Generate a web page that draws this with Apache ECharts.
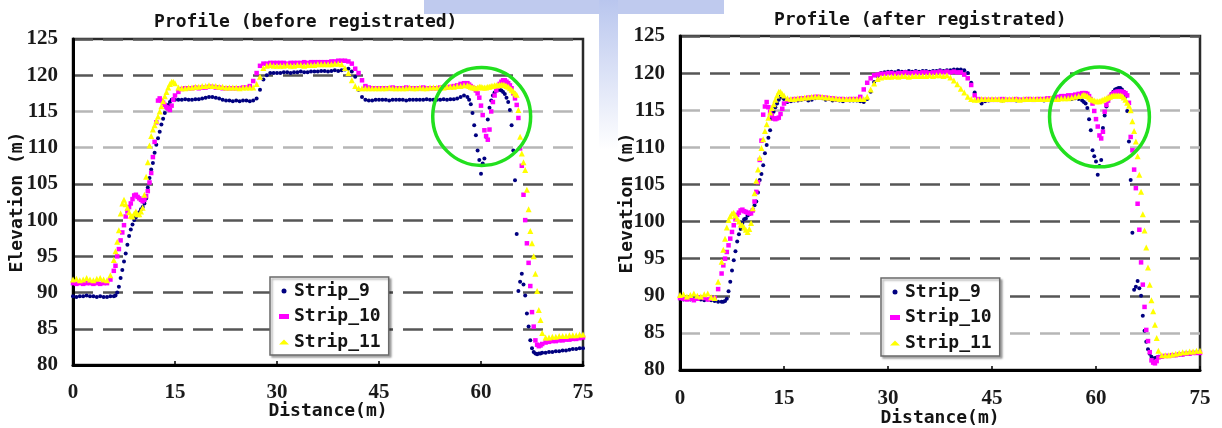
<!DOCTYPE html>
<html>
<head>
<meta charset="utf-8">
<title>Profile before / after registration</title>
<script src="https://cdn.jsdelivr.net/npm/echarts@6/dist/echarts.min.js"></script>
<style>
  html, body { margin: 0; padding: 0; background: #fff; }
  #chart { width: 1222px; height: 428px; }
</style>
</head>
<body>
<div id="chart"></div>
<script>
// distance (m) of every sample, shared by all strips
const dist = [
  0, 0.5, 1, 1.5, 2, 2.5, 3, 3.5, 4, 4.5, 5, 5.5,
  6, 6.25, 6.5, 6.75, 7, 7.25, 7.5, 7.75, 8, 8.25,
  8.5, 8.75, 9, 9.25, 9.5, 9.75, 10, 10.25, 10.5, 10.75,
  11, 11.25, 11.5, 11.75, 12, 12.25, 12.5, 12.75, 13, 13.25,
  13.5, 13.75, 14, 14.25, 14.5, 14.75, 15,
  15.5, 16, 16.5, 17, 17.5, 18, 18.5, 19, 19.5, 20,
  20.5, 21, 21.5, 22, 22.5, 23, 23.5, 24, 24.5, 25,
  25.5, 26, 26.5, 27, 27.5, 28, 28.5, 29, 29.5, 30,
  30.5, 31, 31.5, 32, 32.5, 33, 33.5, 34, 34.5, 35,
  35.5, 36, 36.5, 37, 37.5, 38, 38.5, 39, 39.5, 40,
  40.5, 41, 41.5, 42, 42.5, 43, 43.5, 44, 44.5, 45,
  45.5, 46, 46.5, 47, 47.5, 48, 48.5, 49, 49.5, 50,
  50.5, 51, 51.5, 52, 52.5, 53, 53.5, 54, 54.5, 55,
  55.5, 56, 56.5, 57, 57.5,
  58, 58.25, 58.5, 58.75, 59, 59.25, 59.5, 59.75, 60, 60.25,
  60.5, 60.75, 61, 61.25, 61.5, 61.75, 62, 62.25, 62.5, 62.75,
  63, 63.25, 63.5, 63.75, 64, 64.25, 64.5, 64.75, 65, 65.25,
  65.5, 65.75, 66, 66.25, 66.5, 66.75, 67, 67.25, 67.5, 67.75,
  68, 68.25, 68.5, 68.75, 69,
  69.5, 70, 70.5, 71, 71.5, 72, 72.5, 73, 73.5, 74, 74.5, 75
];

// elevation (m), before registration
const before9 = [
  89.5, 89.4, 89.5, 89.5, 89.6, 89.5, 89.5, 89.4, 89.5, 89.4, 89.4, 89.5,
  89.5, 89.6, 90.0, 90.8, 92.0, 93.1, 94.3, 95.4, 96.6, 97.8,
  98.7, 99.4, 100.0, 100.4, 100.7, 101.1, 101.5, 101.8, 102.3, 103.0,
  104.5, 105.8, 107.0, 107.9, 109.3, 110.4, 111.3, 112.2, 113.2, 114.0,
  114.8, 115.5, 115.9, 116.3, 116.6, 116.7, 116.6,
  116.6, 116.6, 116.7, 116.6, 116.6, 116.7, 116.7, 116.8, 116.9, 117.0,
  117.0, 116.9, 116.8, 116.6, 116.5, 116.5, 116.4, 116.5, 116.4, 116.5,
  116.5, 116.4, 116.5, 116.8, 118.0, 119.4, 120.0, 120.3, 120.3, 120.3,
  120.3, 120.4, 120.4, 120.3, 120.4, 120.4, 120.5, 120.4, 120.4, 120.5,
  120.5, 120.5, 120.6, 120.6, 120.5, 120.6, 120.7, 120.6, 120.7, 120.8,
  120.9, 120.5, 119.8, 118.0, 117.0, 116.6, 116.5, 116.5, 116.6, 116.6,
  116.6, 116.6, 116.5, 116.6, 116.6, 116.6, 116.6, 116.5, 116.6, 116.6,
  116.6, 116.6, 116.6, 116.7, 116.6, 116.6, 116.6, 116.6, 116.7, 116.6,
  116.7, 116.7, 116.8, 117.0, 117.2,
  117.0, 116.6, 116.0, 114.8, 113.1, 111.7, 109.6, 108.3, 106.4, 107.8,
  108.5, 111.5, 113.9, 115.5, 116.5, 117.2, 117.6, 117.9, 118.0, 118.0,
  117.9, 117.7, 117.4, 116.9, 116.3, 115.2, 113.1, 109.6, 105.5, 98.1,
  90.2, 91.5, 92.6, 91.1, 89.6, 87.1, 85.3, 83.4, 82.3, 81.8,
  81.6, 81.5, 81.6, 81.6, 81.7,
  81.7, 81.8, 81.8, 81.9, 81.9, 82.0, 82.0, 82.1, 82.2, 82.2, 82.3, 82.3
];
const before10 = [
  91.3, 91.2, 91.3, 91.2, 91.3, 91.3, 91.2, 91.3, 91.2, 91.3, 91.3, 91.8,
  93.0, 93.7, 95.0, 96.0, 97.2, 98.3, 99.3, 100.5, 101.2, 101.8,
  102.3, 102.9, 103.4, 103.5, 103.2, 103.0, 102.8, 102.6, 102.8, 103.3,
  104.0, 105.2, 106.5, 108.7, 110.8, 113.5, 116.5, 116.8, 116.5, 116.2,
  115.9, 115.6, 115.4, 115.2, 115.8, 116.6, 117.2,
  117.7, 118.1, 118.2, 118.2, 118.2, 118.3, 118.2, 118.3, 118.3, 118.4,
  118.4, 118.3, 118.3, 118.2, 118.2, 118.2, 118.2, 118.2, 118.2, 118.3,
  118.3, 118.5, 119.2, 120.3, 121.3, 121.6, 121.6, 121.7, 121.7, 121.7,
  121.7, 121.7, 121.6, 121.7, 121.7, 121.7, 121.7, 121.8, 121.7, 121.8,
  121.8, 121.8, 121.8, 121.8, 121.8, 121.9, 121.9, 122.0, 122.0, 122.0,
  121.9, 121.6, 120.9, 120.3, 119.3, 118.5, 118.3, 118.2, 118.2, 118.2,
  118.2, 118.2, 118.2, 118.3, 118.2, 118.2, 118.2, 118.3, 118.2, 118.2,
  118.2, 118.2, 118.3, 118.2, 118.2, 118.2, 118.2, 118.3, 118.3, 118.3,
  118.4, 118.5, 118.6, 118.8, 118.9,
  118.9, 118.7, 118.5, 118.3, 118.2, 117.9, 117.5, 116.9, 115.8, 114.5,
  112.4, 111.6, 111.1, 112.5, 115.0, 116.3, 117.2, 117.9, 118.4, 118.8,
  119.1, 119.3, 119.3, 119.1, 118.9, 118.6, 118.2, 117.5, 116.8, 115.9,
  114.1, 109.9, 107.5, 103.5, 100.0, 96.8, 94.1, 90.9, 87.3, 85.3,
  83.4, 82.8, 82.6, 82.7, 82.9,
  83.1, 83.2, 83.3, 83.3, 83.4, 83.4, 83.5, 83.5, 83.6, 83.6, 83.7, 83.8
];
const before11 = [
  91.8, 91.9, 91.7, 91.8, 92.0, 91.8, 91.7, 91.9, 92.0, 91.8, 91.7, 92.4,
  94.5, 95.7, 97.0, 98.6, 100.9, 102.3, 102.8, 102.2, 101.7, 101.1,
  100.6, 100.5, 100.9, 101.2, 100.8, 100.8, 101.2, 101.7, 103.5, 106.0,
  108.0, 110.3, 111.6, 112.5, 113.1, 113.7, 114.3, 115.0, 115.7, 116.4,
  117.1, 117.7, 118.3, 118.8, 119.1, 119.1, 118.9,
  118.3, 118.2, 118.2, 118.3, 118.3, 118.4, 118.4, 118.5, 118.5, 118.6,
  118.5, 118.5, 118.4, 118.4, 118.3, 118.3, 118.3, 118.3, 118.2, 118.3,
  118.3, 118.3, 118.3, 118.8, 119.8, 121.0, 121.3, 121.4, 121.3, 121.3,
  121.3, 121.3, 121.4, 121.3, 121.3, 121.4, 121.4, 121.3, 121.4, 121.4,
  121.4, 121.5, 121.5, 121.5, 121.5, 121.5, 121.6, 121.6, 121.5, 121.0,
  120.3, 119.3, 118.5, 118.2, 118.2, 118.2, 118.2, 118.2, 118.2, 118.2,
  118.2, 118.2, 118.3, 118.2, 118.2, 118.2, 118.2, 118.2, 118.3, 118.2,
  118.2, 118.3, 118.2, 118.2, 118.3, 118.3, 118.3, 118.3, 118.3, 118.4,
  118.4, 118.4, 118.5, 118.5, 118.6,
  118.6, 118.5, 118.4, 118.3, 118.3, 118.2, 118.3, 118.4, 118.4, 118.3,
  118.3, 118.3, 118.4, 118.4, 118.5, 118.5, 118.6, 118.6, 118.6, 118.7,
  118.7, 118.7, 118.6, 118.5, 118.4, 118.2, 118.0, 117.8, 117.5, 117.3,
  115.2, 111.5, 109.2, 108.0, 106.9, 104.2, 101.5, 98.5, 96.8, 95.0,
  92.6, 90.2, 87.6, 86.2, 84.4,
  83.8, 83.8, 83.9, 83.9, 84.0, 84.0, 84.0, 84.1, 84.1, 84.1, 84.2, 84.2
];

// elevation (m), after registration
const after9 = [
  89.6, 89.5, 89.6, 89.5, 89.5, 89.6, 89.5, 89.4, 89.5, 89.4, 89.3, 89.2,
  89.2, 89.2, 89.3, 89.6, 90.6, 91.9, 93.4, 94.8, 96.0, 97.3,
  98.3, 99.0, 99.8, 100.3, 100.4, 100.8, 101.0, 101.3, 101.6, 102.2,
  102.7, 103.9, 105.6, 106.4, 107.6, 109.2, 110.3, 111.3, 112.3, 113.9,
  114.8, 115.4, 115.9, 116.4, 116.8, 116.7, 116.5,
  116.1, 116.2, 116.3, 116.3, 116.4, 116.5, 116.3, 116.4, 116.6, 116.7,
  116.6, 116.4, 116.5, 116.3, 116.4, 116.3, 116.2, 116.4, 116.3, 116.3,
  116.3, 116.2, 116.1, 116.5, 117.5, 118.8, 119.6, 120.0, 120.1, 120.2,
  120.2, 120.1, 120.3, 120.2, 120.2, 120.3, 120.2, 120.3, 120.2, 120.3,
  120.3, 120.2, 120.3, 120.3, 120.4, 120.3, 120.4, 120.4, 120.5, 120.5,
  120.5, 120.4, 120.0, 118.7, 117.4, 116.5, 115.9, 116.2, 116.3, 116.4,
  116.4, 116.4, 116.3, 116.4, 116.4, 116.4, 116.3, 116.4, 116.4, 116.4,
  116.4, 116.4, 116.4, 116.4, 116.3, 116.4, 116.4, 116.4, 116.4, 116.5,
  116.5, 116.5, 116.5, 116.6, 116.5,
  116.3, 116.1, 115.9, 115.3, 113.8, 112.3, 109.6, 108.8, 108.1, 106.3,
  107.5, 108.3, 112.6, 114.3, 115.5, 116.3, 116.8, 117.2, 117.5, 117.8,
  117.9, 118.0, 118.0, 117.8, 117.5, 116.8, 114.9, 110.8, 105.6, 98.5,
  90.8, 91.2, 92.0, 91.0, 90.0, 87.3, 85.3, 83.8, 82.8, 82.2,
  81.8, 81.5, 81.6, 81.7, 81.8,
  81.8, 81.9, 81.9, 82.0, 82.0, 82.1, 82.1, 82.2, 82.2, 82.3, 82.3, 82.4
];
const after10 = [
  89.7, 89.6, 89.5, 89.6, 89.4, 89.6, 89.8, 89.7, 89.5, 89.6, 89.7, 90.9,
  93.0, 94.1, 95.0, 95.9, 96.8, 97.7, 98.6, 99.5, 100.3, 100.9,
  101.2, 101.5, 101.6, 101.4, 101.3, 101.2, 101.1, 101.1, 101.5, 102.7,
  104.0, 105.3, 108.3, 110.9, 114.4, 115.5, 116.1, 115.4, 114.8, 114.3,
  113.9, 113.8, 113.9, 114.0, 114.5, 115.2, 115.9,
  116.3, 116.4, 116.5, 116.5, 116.6, 116.6, 116.7, 116.7, 116.8, 116.8,
  116.7, 116.7, 116.6, 116.6, 116.5, 116.5, 116.5, 116.4, 116.5, 116.5,
  116.5, 116.8, 117.8, 118.7, 119.3, 119.7, 119.8, 119.9, 119.9, 120.0,
  120.0, 119.9, 120.0, 120.0, 120.1, 120.0, 120.0, 120.1, 120.0, 120.1,
  120.1, 120.0, 120.1, 120.1, 120.2, 120.1, 120.2, 120.1, 120.2, 120.1,
  120.1, 119.8, 119.3, 118.4, 117.0, 116.5, 116.4, 116.4, 116.4, 116.4,
  116.4, 116.4, 116.5, 116.4, 116.4, 116.4, 116.5, 116.4, 116.4, 116.5,
  116.5, 116.4, 116.5, 116.5, 116.5, 116.6, 116.6, 116.7, 116.8, 116.9,
  116.9, 117.0, 117.0, 117.1, 117.2,
  117.3, 117.3, 117.3, 117.2, 116.9, 116.5, 115.9, 114.9, 113.8, 112.8,
  111.6, 111.2, 112.1, 114.8, 115.7, 116.3, 116.8, 117.1, 117.3, 117.4,
  117.5, 117.5, 117.5, 117.5, 117.4, 117.3, 117.0, 116.0, 111.4, 109.6,
  107.0, 104.5, 102.4, 98.9, 94.5, 91.5, 88.5, 85.4, 83.9, 82.4,
  81.3, 81.0, 80.9, 81.2, 81.7,
  81.8, 81.9, 81.9, 82.0, 82.0, 82.1, 82.1, 82.2, 82.2, 82.3, 82.3, 82.3
];
const after11 = [
  90.1, 90.2, 89.9, 90.1, 90.3, 90.0, 89.9, 90.2, 90.3, 89.8, 89.7, 91.9,
  94.6, 96.2, 97.7, 99.2, 100.2, 100.7, 101.1, 101.2, 100.8, 100.4,
  100.0, 99.6, 99.5, 99.2, 98.9, 98.6, 99.0, 99.8, 101.8, 103.8,
  105.5, 107.0, 108.6, 109.9, 111.1, 112.2, 113.1, 114.0, 114.7, 115.3,
  115.8, 116.4, 117.0, 117.5, 117.5, 117.2, 117.0,
  116.6, 116.5, 116.5, 116.6, 116.6, 116.7, 116.7, 116.8, 116.8, 116.8,
  116.8, 116.7, 116.7, 116.6, 116.6, 116.5, 116.5, 116.5, 116.5, 116.5,
  116.5, 116.5, 116.5, 116.8, 117.8, 118.6, 119.2, 119.4, 119.5, 119.5,
  119.5, 119.6, 119.5, 119.6, 119.6, 119.5, 119.6, 119.6, 119.6, 119.6,
  119.6, 119.7, 119.6, 119.7, 119.7, 119.6, 119.7, 119.4, 119.0, 118.5,
  117.9, 117.4, 116.8, 116.5, 116.4, 116.4, 116.5, 116.5, 116.5, 116.5,
  116.5, 116.5, 116.4, 116.5, 116.5, 116.5, 116.5, 116.4, 116.5, 116.5,
  116.5, 116.5, 116.5, 116.5, 116.5, 116.5, 116.6, 116.5, 116.5, 116.6,
  116.6, 116.6, 116.7, 116.8, 116.9,
  117.0, 117.1, 117.0, 116.9, 116.7, 116.5, 116.4, 116.3, 116.2, 116.2,
  116.2, 116.3, 116.4, 116.5, 116.6, 116.7, 116.8, 116.9, 117.0, 117.0,
  117.0, 117.0, 117.0, 116.9, 116.7, 116.4, 116.0, 115.6, 115.0, 113.5,
  112.2, 110.8, 108.8, 106.3, 104.0, 101.0, 98.8, 96.5, 93.8, 91.5,
  89.4, 87.9, 86.1, 84.3, 82.6,
  82.0, 82.0, 82.0, 82.1, 82.2, 82.3, 82.4, 82.4, 82.5, 82.5, 82.6, 82.6
];

const stripNames = ['Strip_9', 'Strip_10', 'Strip_11'];
const panelTitles = ['Profile (before registrated)', 'Profile (after registrated)'];
const xTicks = [0, 15, 30, 45, 60, 75];
const yTicks = [80, 85, 90, 95, 100, 105, 110, 115, 120, 125];
// centre of the green circle drawn round the dip, in data units
const dipMarks = [[60.1, 114.3], [60.5, 114.1]];

const monoFont = "'DejaVu Sans Mono', monospace";
const numFont = "'Liberation Serif', serif";
const dark = '#565656';
const light = '#b6b6b6';

const strips = [
  { symbol: 'circle', size: 4, color: '#000080' },
  { symbol: 'rect', size: 4.5, color: '#ff00ff' },
  { symbol: 'triangle', size: 6, color: '#ffff00' },
];

const panels = [
  {
    grid: { left: 73, top: 39, width: 510, height: 326 },
    titlePos: { left: 154, top: 13 },
    legendPos: { left: 270, top: 277 },
    lines: [dark, dark, dark, dark, dark, dark, light, light, dark, dark],
    labelMargin: 17, nameGap: 37, yNameGap: 47,
    values: [before9, before10, before11],
  },
  {
    grid: { left: 680, top: 36, width: 520, height: 334 },
    titlePos: { left: 774, top: 11 },
    legendPos: { left: 881, top: 278 },
    lines: [dark, light, dark, dark, dark, dark, light, light, dark, dark],
    labelMargin: 18, nameGap: 39, yNameGap: 44,
    values: [after9, after10, after11],
  },
];

const textStyle = { fontFamily: monoFont, fontWeight: 'bold', fontSize: 18, color: '#141414' };
const tickStyle = { fontFamily: numFont, fontWeight: 'bold', fontSize: 21, color: '#1a1a1a' };

const chartDom = document.getElementById('chart');
const chart = echarts.init(chartDom, null, { renderer: 'canvas' });

const option = {
  animation: false,
  backgroundColor: '#fff',
  title: panels.map((p, i) => ({
    text: panelTitles[i],
    left: p.titlePos.left,
    top: p.titlePos.top,
    padding: 0,
    textStyle: textStyle,
  })),
  grid: panels.map((p) => ({
    ...p.grid,
    outerBoundsMode: 'none',
    show: true,
    backgroundColor: '#fff',
    borderColor: '#2a2a2a',
    borderWidth: 2.5,
  })),
  legend: panels.map((p) => ({
    orient: 'vertical',
    left: p.legendPos.left,
    top: p.legendPos.top,
    padding: [5, 8, 4, 9],
    itemGap: 7.5,
    itemWidth: 10,
    itemHeight: 5,
    backgroundColor: '#fff',
    borderColor: '#6a6a6a',
    borderWidth: 1.5,
    shadowColor: 'rgba(0,0,0,0.3)',
    shadowBlur: 2,
    shadowOffsetX: 2,
    shadowOffsetY: 2,
    selectedMode: false,
    textStyle: textStyle,
    data: stripNames,
  })),
  xAxis: panels.map((p, i) => ({
    gridIndex: i,
    type: 'value',
    min: xTicks[0],
    max: xTicks[xTicks.length - 1],
    interval: xTicks[1] - xTicks[0],
    name: 'Distance(m)',
    nameLocation: 'middle',
    nameGap: p.nameGap,
    nameMoveOverlap: false,
    nameTextStyle: textStyle,
    axisLine: { show: true, onZero: false, lineStyle: { color: '#000', width: 3 } },
    axisTick: { show: true, inside: true, length: 4, lineStyle: { color: '#000', width: 1.5 } },
    axisLabel: { ...tickStyle, margin: p.labelMargin },
    splitLine: { show: false },
  })),
  yAxis: panels.map((p, i) => ({
    gridIndex: i,
    type: 'value',
    min: yTicks[0],
    max: yTicks[yTicks.length - 1],
    interval: yTicks[1] - yTicks[0],
    name: 'Elevation (m)',
    nameLocation: 'middle',
    nameRotate: 90,
    nameGap: p.yNameGap,
    nameMoveOverlap: false,
    nameTextStyle: textStyle,
    axisLine: { show: true, lineStyle: { color: '#000', width: 3 } },
    axisTick: { show: false },
    axisLabel: { ...tickStyle, margin: 15 },
    splitLine: { show: true, lineStyle: { color: p.lines, width: 2.5, type: [20, 10] } },
  })),
  series: [],
};

panels.forEach((p, i) => {
  p.values.forEach((ys, k) => {
    option.series.push({
      name: stripNames[k],
      type: 'scatter',
      xAxisIndex: i,
      yAxisIndex: i,
      symbol: strips[k].symbol,
      symbolSize: strips[k].size,
      itemStyle: { color: strips[k].color, opacity: 1 },
      silent: true,
      data: dist.map((d, n) => [d, ys[n]]),
    });
  });
});

chart.setOption(option);

// faint blue watermark showing between the two panels, and the green rings round the dip
const fade = new echarts.graphic.LinearGradient(0, 0, 0, 1, [
  { offset: 0, color: '#b9c6ee' },
  { offset: 1, color: '#ffffff' },
]);
const rings = dipMarks.map((c, i) => {
  const centre = chart.convertToPixel({ gridIndex: i }, c);
  const edge = chart.convertToPixel({ gridIndex: i }, [c[0] + 7.2, c[1]]);
  return {
    type: 'circle',
    silent: true,
    z: 100,
    shape: { cx: centre[0], cy: centre[1], r: edge[0] - centre[0] },
    style: { fill: 'none', stroke: '#22e01e', lineWidth: 3.5 },
  };
});
chart.setOption({
  graphic: [
    { type: 'rect', silent: true, z: -10, shape: { x: 424, y: 0, width: 300, height: 14 }, style: { fill: '#bfcaee' } },
    { type: 'rect', silent: true, z: -10, shape: { x: 599, y: 0, width: 19, height: 150 }, style: { fill: fade } },
    ...rings,
  ],
});

window.addEventListener('resize', () => chart.resize());
</script>
</body>
</html>
